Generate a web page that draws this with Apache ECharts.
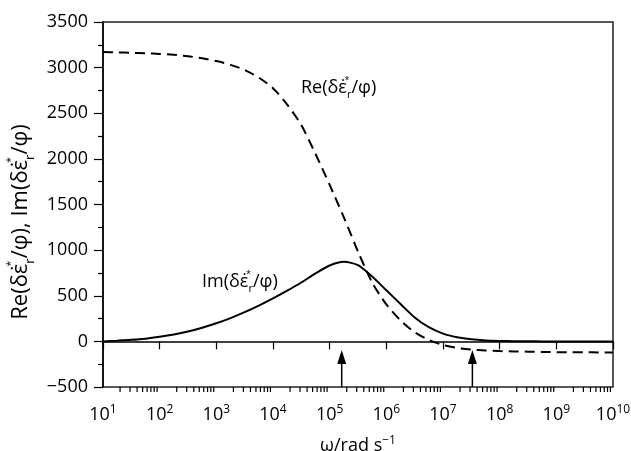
<!DOCTYPE html>
<html><head><meta charset="utf-8">
<script src="https://cdn.jsdelivr.net/npm/echarts@6/dist/echarts.min.js"></script>
<style>html,body{margin:0;padding:0;background:#fff}#c{width:631px;height:451px}</style>
</head><body><div id="c"></div>
<script>
// ---- data ----
// angular frequency, quarter-decade steps 10^1 ... 10^10
const omega = [1e1, 1.78e1, 3.16e1, 5.62e1, 1e2, 1.78e2, 3.16e2, 5.62e2, 1e3, 1.78e3, 3.16e3, 5.62e3,
  1e4, 1.78e4, 3.16e4, 5.62e4, 1e5, 1.78e5, 3.16e5, 5.62e5, 1e6, 1.78e6, 3.16e6, 5.62e6,
  1e7, 1.78e7, 3.16e7, 5.62e7, 1e8, 1.78e8, 3.16e8, 5.62e8, 1e9, 1.78e9, 3.16e9, 5.62e9, 1e10];
const reValues = [3170, 3167, 3163, 3157, 3150, 3140, 3125, 3102, 3072, 3030, 2975, 2890,
  2775, 2595, 2370, 2055, 1715, 1360, 985, 645, 405, 230, 100, 15,
  -40, -72, -90, -100, -106, -110, -113, -116, -118, -119, -120, -121, -122];
const imValues = [0, 8, 17, 30, 50, 75, 108, 150, 198, 255, 320, 392,
  470, 555, 645, 745, 832, 872, 835, 710, 560, 410, 262, 155,
  85, 45, 22, 10, 5, 2, 1, 0, 0, 0, 0, 0, 0];
const arrowOmega = [1.63e5, 3.3e7];
const arrowTip = -95;
const yTicks = { min: -500, max: 3500, step: 500 };
const xRange = { min: 1e1, max: 1e10 };
const minorKs = [2, 3, 4, 5, 6, 7, 8, 9];
const decades = [1, 2, 3, 4, 5, 6, 7, 8, 9];

const FONT = 'Open Sans';
const minorTickOmega = [];
decades.forEach(n => minorKs.forEach(k => minorTickOmega.push([k * Math.pow(10, n), yTicks.min])));

function makeRich(size) {
  return {
    t: { fontFamily: FONT, fontSize: size, color: '#000', lineHeight: Math.round(size * 1.4) },
    a: { fontFamily: FONT, fontSize: Math.round(size * 0.5), color: '#000', width: 0, align: 'right', verticalAlign: 'top', lineHeight: Math.round(size * 0.5) },
    r: { fontFamily: FONT, fontSize: Math.round(size * 0.6), color: '#000', verticalAlign: 'bottom', lineHeight: Math.round(size * 0.7) }
  };
}
function epsText(prefix) {
  return '{t|' + prefix + '(δε\u0307}{a|*}{r|r}{t|/φ)}';
}

const chart = echarts.init(document.getElementById('c'), null, { renderer: 'canvas' });
chart.setOption({
  animation: false,
  backgroundColor: '#fff',
  grid: { left: 103, right: 18, top: 22, bottom: 64, outerBoundsMode: 'none', containLabel: false, show: true, borderColor: '#222', borderWidth: 1.5, backgroundColor: 'transparent' },
  xAxis: {
    type: 'log', logBase: 10, min: xRange.min, max: xRange.max, splitNumber: 9,
    axisLine: { lineStyle: { color: '#000', width: 1.5 } },
    axisTick: { show: true, length: 8, inside: false, lineStyle: { color: '#000', width: 1.2 } },
    minorTick: { show: false },
    splitLine: { show: false },
    axisLabel: {
      margin: 17,
      formatter: v => '{b|10}{s|' + Math.round(Math.log10(v)) + '}',
      rich: {
        b: { fontFamily: FONT, fontSize: 18, color: '#000', lineHeight: 22 },
        s: { fontFamily: FONT, fontSize: 12, color: '#000', verticalAlign: 'top', lineHeight: 12 }
      }
    },
    name: '{b|ω/rad s}{s|−1}', nameLocation: 'middle', nameGap: 48,
    nameTextStyle: {
      rich: {
        b: { fontFamily: FONT, fontSize: 18, color: '#000', lineHeight: 22 },
        s: { fontFamily: FONT, fontSize: 12, color: '#000', verticalAlign: 'top', lineHeight: 12 }
      }
    }
  },
  yAxis: {
    type: 'value', min: yTicks.min, max: yTicks.max, interval: yTicks.step,
    axisLine: { show: true, lineStyle: { color: '#000', width: 1.5 } },
    axisTick: { show: true, length: 9, inside: false, lineStyle: { color: '#000', width: 1.2 } },
    minorTick: { show: true, splitNumber: 2, length: 5, lineStyle: { color: '#000', width: 1.2 } },
    splitLine: { show: false },
    axisLabel: { margin: 15, fontFamily: FONT, fontSize: 18, color: '#000', formatter: v => v < 0 ? '\u2212' + Math.abs(v) : String(v) }
  },
  series: [
    {
      name: 'Re', type: 'line', data: omega.map((w, i) => [w, reValues[i]]),
      smooth: 0.25, showSymbol: false, symbol: 'none',
      lineStyle: { color: '#000', width: 2, type: [10, 6] }, z: 3
    },
    {
      name: 'Im', type: 'line', data: omega.map((w, i) => [w, imValues[i]]),
      smooth: 0.25, showSymbol: false, symbol: 'none',
      lineStyle: { color: '#000', width: 2, type: 'solid' }, z: 3
    },
    {
      name: 'minorTicks', type: 'custom', silent: true, clip: false, z: 5,
      data: minorTickOmega, encode: { x: 0, y: 1 },
      renderItem: (params, api) => {
        const p = api.coord([api.value(0), api.value(1)]);
        return { type: 'line', shape: { x1: p[0], y1: p[1], x2: p[0], y2: p[1] + 5 }, style: { stroke: '#000', lineWidth: 1.2 } };
      }
    },
    {
      name: 'arrows', type: 'custom', silent: true, clip: false, z: 6,
      data: arrowOmega.map(w => [w, yTicks.min, arrowTip]), encode: { x: 0, y: [1, 2] },
      renderItem: (params, api) => {
        const b = api.coord([api.value(0), api.value(1)]);
        const t = api.coord([api.value(0), api.value(2)]);
        return {
          type: 'group', children: [
            { type: 'line', shape: { x1: b[0], y1: b[1], x2: t[0], y2: t[1] + 8 }, style: { stroke: '#000', lineWidth: 1.5 } },
            { type: 'polygon', shape: { points: [[t[0], t[1]], [t[0] - 4.5, t[1] + 14], [t[0] + 4.5, t[1] + 14]] }, style: { fill: '#000' } }
          ]
        };
      }
    }
  ],
  graphic: [
    { type: 'text', x: 301, y: 88, style: { text: epsText('Re'), rich: makeRich(18), align: 'left', verticalAlign: 'middle' } },
    { type: 'text', x: 202, y: 282, style: { text: epsText('Im'), rich: makeRich(18), align: 'left', verticalAlign: 'middle' } },
    { type: 'text', x: 21, y: 222, rotation: Math.PI / 2, style: { text: epsText('Re') + '{t|, }' + epsText('Im'), rich: makeRich(22), align: 'center', verticalAlign: 'middle' } }
  ]
});
</script></body></html>
